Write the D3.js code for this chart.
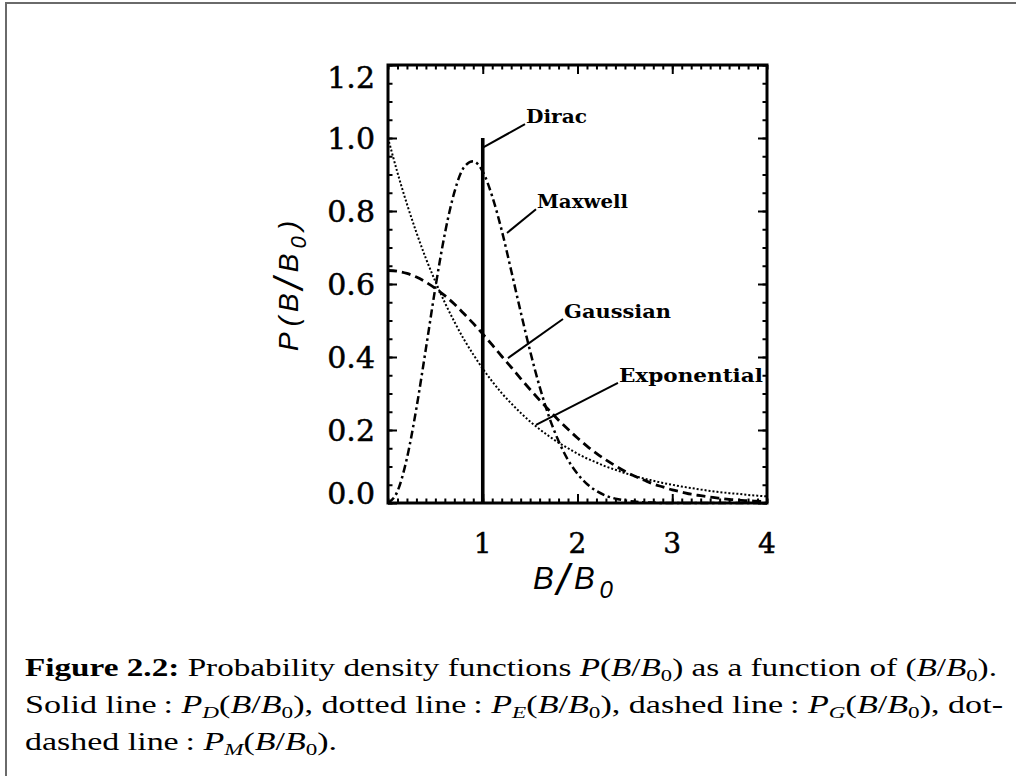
<!DOCTYPE html>
<html>
<head>
<meta charset="utf-8">
<script src="https://cdn.jsdelivr.net/npm/d3@7"></script>
<style>
  html, body { margin: 0; padding: 0; background: #fff; }
  svg { display: block; }
</style>
</head>
<body>
<svg id="chart" width="1016" height="776"></svg>
<script>
// ---- data -------------------------------------------------------------
// sample grid of B/B0
const bRatio = [
  0.0, 0.1, 0.2, 0.3, 0.4, 0.5, 0.6, 0.7, 0.8, 0.9,
  1.0, 1.1, 1.2, 1.3, 1.4, 1.5, 1.6, 1.7, 1.8, 1.9,
  2.0, 2.1, 2.2, 2.3, 2.4, 2.5, 2.6, 2.7, 2.8, 2.9,
  3.0, 3.1, 3.2, 3.3, 3.4, 3.5, 3.6, 3.7, 3.8, 3.9, 4.0
];
// P_E : exponential distribution
const exponential = [
  1.000, 0.905, 0.819, 0.741, 0.670, 0.607, 0.549, 0.497, 0.449, 0.407,
  0.368, 0.333, 0.301, 0.273, 0.247, 0.223, 0.202, 0.183, 0.165, 0.150,
  0.135, 0.122, 0.111, 0.100, 0.091, 0.082, 0.074, 0.067, 0.061, 0.055,
  0.050, 0.045, 0.041, 0.037, 0.033, 0.030, 0.027, 0.025, 0.022, 0.020, 0.018
];
// P_G : gaussian distribution
const gaussian = [
  0.637, 0.635, 0.629, 0.619, 0.605, 0.588, 0.568, 0.545, 0.519, 0.492,
  0.463, 0.433, 0.402, 0.372, 0.341, 0.311, 0.282, 0.254, 0.227, 0.202,
  0.178, 0.156, 0.136, 0.118, 0.102, 0.087, 0.074, 0.063, 0.052, 0.044,
  0.036, 0.030, 0.024, 0.020, 0.016, 0.013, 0.010, 0.008, 0.006, 0.005, 0.004
];
// P_M : maxwellian distribution
const maxwell = [
  0.000, 0.032, 0.123, 0.260, 0.423, 0.590, 0.738, 0.851, 0.919, 0.936,
  0.908, 0.840, 0.747, 0.637, 0.524, 0.416, 0.319, 0.236, 0.170, 0.118,
  0.080, 0.052, 0.033, 0.020, 0.012, 0.007, 0.004, 0.002, 0.001, 0.000,
  0.000, 0.000, 0.000, 0.000, 0.000, 0.000, 0.000, 0.000, 0.000, 0.000, 0.000
];
// P_D : Dirac distribution (single spike)
const diracPosition = [1.0];
const diracHeight = [1.0];

const curveNames = ["Dirac", "Maxwell", "Gaussian", "Exponential"];
const yTickValues = [0.0, 0.2, 0.4, 0.6, 0.8, 1.0, 1.2];
const yTickLabels = ["0.0", "0.2", "0.4", "0.6", "0.8", "1.0", "1.2"];
const xTickValues = [1, 2, 3, 4];
const xTickLabels = ["1", "2", "3", "4"];

// ---- layout -----------------------------------------------------------
const plot = { left: 388, right: 767, top: 65, bottom: 503 };

const x = d3.scaleLinear().domain([0, 4]).range([plot.left, plot.right]);
const y = d3.scaleLinear().domain([0, 1.2]).range([plot.bottom, plot.top]);

// pointer lines for the curve names, in data units
const pointers = [
  { from: [1.01, 0.975], to: [1.446, 1.038], width: 61 },
  { from: [1.256, 0.740], to: [1.562, 0.805], width: 91 },
  { from: [1.266, 0.397], to: [1.847, 0.504], width: 107 },
  { from: [1.562, 0.214], to: [2.427, 0.329], width: 144 }
];

const svg = d3.select("#chart");

// page border
svg.append("path")
  .attr("d", "M6,776 L6,3 L1016,3")
  .attr("fill", "none")
  .attr("stroke", "#6a6a6a")
  .attr("stroke-width", 2);

// ---- ticks on all four sides (pointing inward) -------------------------
const minorX = d3.range(0, 41).map(i => i / 10);
const minorY = d3.range(0, 25).map(i => i * 0.05);
const majorX = [1, 2, 3];

function frameAxis(axisGen, transform, size) {
  const g = svg.append("g").attr("transform", transform).call(axisGen.tickSize(size).tickFormat(""));
  g.select(".domain").remove();
  g.selectAll(".tick line").attr("stroke", "#000").attr("stroke-width", 2);
  return g;
}

frameAxis(d3.axisBottom(x).tickValues(minorX), `translate(0,${plot.bottom})`, -4.5);
frameAxis(d3.axisBottom(x).tickValues(majorX), `translate(0,${plot.bottom})`, -9);
frameAxis(d3.axisTop(x).tickValues(minorX), `translate(0,${plot.top})`, -4.5);
frameAxis(d3.axisTop(x).tickValues(majorX), `translate(0,${plot.top})`, -9);
frameAxis(d3.axisLeft(y).tickValues(minorY), `translate(${plot.left},0)`, -4.5);
frameAxis(d3.axisLeft(y).tickValues(yTickValues), `translate(${plot.left},0)`, -9);
frameAxis(d3.axisRight(y).tickValues(minorY), `translate(${plot.right},0)`, -4.5);
frameAxis(d3.axisRight(y).tickValues(yTickValues), `translate(${plot.right},0)`, -9);

// ---- curves ------------------------------------------------------------
const lineGen = d3.line()
  .x((d, i) => x(bRatio[i]))
  .y(d => y(d))
  .curve(d3.curveMonotoneX);

const curves = svg.append("g").attr("fill", "none").attr("stroke", "#000");

curves.append("path")
  .attr("d", lineGen(exponential))
  .attr("stroke-width", 2)
  .attr("stroke-dasharray", "2 2");

curves.append("path")
  .attr("d", lineGen(gaussian))
  .attr("stroke-width", 2.8)
  .attr("stroke-dasharray", "9 5");

curves.append("path")
  .attr("d", lineGen(maxwell))
  .attr("stroke-width", 2.5)
  .attr("stroke-dasharray", "8 3.5 2.5 3.5");

curves.selectAll("line.dirac")
  .data(diracPosition)
  .join("line")
  .attr("class", "dirac")
  .attr("x1", d => x(d)).attr("x2", d => x(d))
  .attr("y1", y(0)).attr("y2", (d, i) => y(diracHeight[i]))
  .attr("stroke-width", 3.6);

// ---- frame ---------------------------------------------------------------
svg.append("rect")
  .attr("x", plot.left).attr("y", plot.top)
  .attr("width", plot.right - plot.left)
  .attr("height", plot.bottom - plot.top)
  .attr("fill", "none")
  .attr("stroke", "#000")
  .attr("stroke-width", 3);

// ---- curve name labels with pointers -------------------------------------
const notes = svg.append("g");
pointers.forEach((p, i) => {
  notes.append("line")
    .attr("x1", x(p.from[0])).attr("y1", y(p.from[1]))
    .attr("x2", x(p.to[0])).attr("y2", y(p.to[1]))
    .attr("stroke", "#000").attr("stroke-width", 2);
  notes.append("text")
    .attr("x", x(p.to[0]) + 1)
    .attr("y", y(p.to[1]) - 1)
    .attr("font-family", "'DejaVu Serif', serif")
    .attr("font-weight", "bold")
    .attr("font-size", 19)
    .attr("textLength", p.width)
    .attr("lengthAdjust", "spacingAndGlyphs")
    .text(curveNames[i]);
});

// ---- tick labels ----------------------------------------------------------
const numFont = "'DejaVu Serif', serif";
svg.append("g").selectAll("text")
  .data(yTickValues)
  .join("text")
  .attr("x", 375)
  .attr("y", d => Math.min(Math.max(y(d), plot.top + 12), plot.bottom - 10))
  .attr("dy", "0.36em")
  .attr("text-anchor", "end")
  .attr("font-family", numFont)
  .attr("font-size", 30)
  .attr("stroke", "#000")
  .attr("stroke-width", 0.5)
  .text((d, i) => yTickLabels[i]);

svg.append("g").selectAll("text")
  .data(xTickValues)
  .join("text")
  .attr("x", d => x(d))
  .attr("y", 553)
  .attr("text-anchor", "middle")
  .attr("font-family", numFont)
  .attr("font-size", 28)
  .attr("stroke", "#000")
  .attr("stroke-width", 0.5)
  .text((d, i) => xTickLabels[i]);

// ---- axis titles ------------------------------------------------------------
const titleFont = "'Liberation Sans', Arial, sans-serif";
const xTitle = svg.append("text")
  .attr("x", 533).attr("y", 589)
  .attr("font-family", titleFont)
  .attr("font-style", "italic")
  .attr("font-size", 31);
xTitle.append("tspan").text("B");
xTitle.append("tspan").attr("dx", 3).attr("dy", 6).attr("font-size", 44).text("/");
xTitle.append("tspan").attr("dx", 5).attr("dy", -6).text("B");
xTitle.append("tspan").attr("dx", 5).attr("dy", 9).attr("font-size", 24).text("0");

const yTitle = svg.append("text")
  .attr("transform", "translate(298,286) rotate(-90)")
  .attr("text-anchor", "middle")
  .attr("font-family", titleFont)
  .attr("font-style", "italic")
  .attr("font-size", 28);
yTitle.append("tspan").text("P");
yTitle.append("tspan").attr("dx", 6).text("(");
yTitle.append("tspan").attr("dx", 5).text("B");
yTitle.append("tspan").attr("dx", 4).attr("dy", 5).attr("font-size", 40).text("/");
yTitle.append("tspan").attr("dx", 6).attr("dy", -5).text("B");
yTitle.append("tspan").attr("dx", 5).attr("dy", 8).attr("font-size", 22).text("0");
yTitle.append("tspan").attr("dx", 6).attr("dy", -8).text(")");

// ---- caption ---------------------------------------------------------------
const capFont = "'Liberation Serif', 'Times New Roman', serif";
function ratio(t) {
  // appends B/B_0) with italic B and upright subscript 0
  t.append("tspan").attr("font-style", "italic").text("B");
  t.append("tspan").text("/");
  t.append("tspan").attr("font-style", "italic").text("B");
  t.append("tspan").attr("dy", 5).attr("font-size", 17).text("0");
  t.append("tspan").attr("dy", -5).text(")");
}
function density(t, sub) {
  t.append("tspan").attr("font-style", "italic").text("P");
  t.append("tspan").attr("dy", 5).attr("font-size", 17).attr("font-style", "italic").text(sub);
  t.append("tspan").attr("dy", -5).text("(");
  ratio(t);
}
function captionLine(yPos, width) {
  return svg.append("text")
    .attr("x", 25).attr("y", yPos)
    .attr("font-family", capFont)
    .attr("font-size", 25)
    .attr("textLength", width)
    .attr("lengthAdjust", "spacingAndGlyphs");
}

const c1 = captionLine(676, 972);
c1.append("tspan").attr("font-weight", "bold").text("Figure 2.2:");
c1.append("tspan").text(" Probability density functions ");
c1.append("tspan").attr("font-style", "italic").text("P");
c1.append("tspan").text("(");
ratio(c1);
c1.append("tspan").text(" as a function of (");
ratio(c1);
c1.append("tspan").text(".");

const c2 = captionLine(713, 978);
c2.append("tspan").text("Solid line\u2009: ");
density(c2, "D");
c2.append("tspan").text(", dotted line\u2009: ");
density(c2, "E");
c2.append("tspan").text(", dashed line\u2009: ");
density(c2, "G");
c2.append("tspan").text(", dot-");

const c3 = captionLine(750, 312);
c3.append("tspan").text("dashed line\u2009: ");
density(c3, "M");
c3.append("tspan").text(".");
</script>
</body>
</html>
